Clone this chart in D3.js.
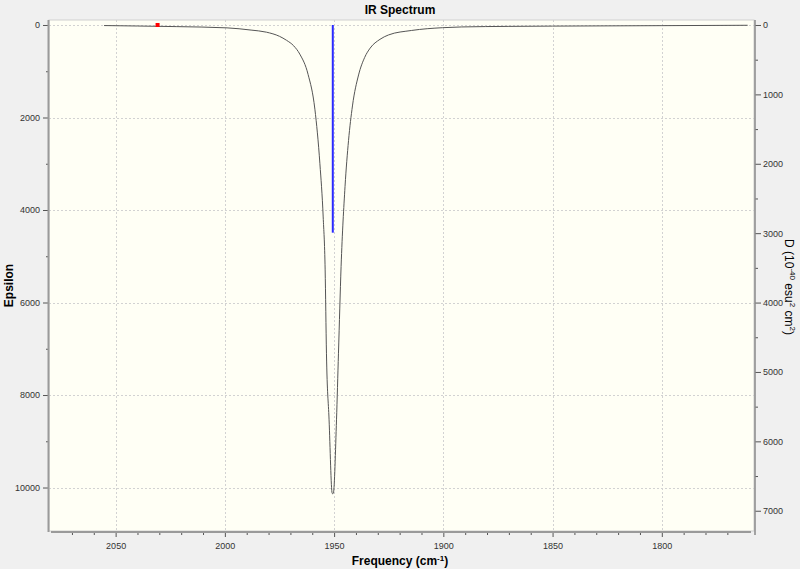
<!DOCTYPE html>
<html>
<head>
<meta charset="utf-8">
<script src="https://cdn.jsdelivr.net/npm/d3@7"></script>
<style>
  body { margin: 0; background: #f0f0f0; }
  text { font-family: "Liberation Sans", Arial, sans-serif; }
</style>
</head>
<body>
<svg id="chart" width="800" height="569"></svg>
<script>
// spectrum curve (frequency cm-1, epsilon)
var freq = [2055.3, 2040, 2022, 1999, 1988, 1981, 1975, 1971.8, 1968.5, 1965.7, 1961.9, 1958.8, 1956.5, 1955.0,
            1954.1, 1953.5, 1952.3, 1950.9, 1950.6, 1950.3, 1948.9, 1948.0, 1946.8, 1945.0,
            1943.4, 1941.6, 1938.8, 1936, 1933.5, 1929, 1925.1, 1914.5, 1900.3, 1891.6, 1870, 1850, 1800, 1760.7];
var epsilon = [12, 22, 35, 62, 110, 155, 245, 330, 450, 630, 1070, 1820, 3000, 4150,
               5295, 7096, 8537, 10121, 10136, 10115, 8537, 7096, 5224, 3495,
               2500, 1750, 1080, 700, 500, 310, 215, 118, 58, 42, 30, 24, 14, 6];

// sticks (frequency, D)
var stickFreq = [1950.6, 2030.8];
var stickD = [2993, 0];
var stickColor = ["#2a2aff", "red"];

// ticks
var freqTicks = [2050, 2000, 1950, 1900, 1850, 1800];
var freqMinor = [2070, 2060, 2040, 2030, 2020, 2010, 1990, 1980, 1970, 1960, 1940, 1930,
                 1920, 1910, 1890, 1880, 1870, 1860, 1840, 1830, 1820, 1810, 1790, 1780, 1770];
var epsTicks = [0, 2000, 4000, 6000, 8000, 10000];
var epsMinor = [1000, 3000, 5000, 7000, 9000];
var dTicks = [0, 1000, 2000, 3000, 4000, 5000, 6000, 7000];
var dMinor = [500, 1500, 2500, 3500, 4500, 5500, 6500];

var margin = { top: 20, right: 46, bottom: 38, left: 49 },
    width = 800 - margin.left - margin.right,
    height = 569 - margin.top - margin.bottom;

var svg = d3.select("#chart");

svg.append("text")
  .attr("x", 400).attr("y", 14)
  .attr("text-anchor", "middle")
  .style("font-size", "12px").style("font-weight", "bold")
  .text("IR Spectrum");

var g = svg.append("g")
  .attr("transform", "translate(" + margin.left + "," + margin.top + ")");

var x = d3.scaleLinear().domain([2080.5, 1757.8]).range([0, width]);
var y = d3.scaleLinear().domain([-108, 10940]).range([0, height]);
var yD = d3.scaleLinear().domain([-72, 7292]).range([0, height]);
var fmt = d3.format("d");

// plot background
g.append("rect")
  .attr("width", width).attr("height", height)
  .attr("fill", "#fffff5")
  .attr("stroke", "#cfcfcf");

// grid
g.append("g").selectAll("line").data(epsTicks).enter().append("line")
  .attr("x1", 0).attr("x2", width)
  .attr("y1", d => Math.round(y(d)) + 0.5).attr("y2", d => Math.round(y(d)) + 0.5)
  .attr("stroke", "#d2d2d2").attr("stroke-dasharray", "2,2");
g.append("g").selectAll("line").data(freqTicks).enter().append("line")
  .attr("y1", 0).attr("y2", height)
  .attr("x1", d => Math.round(x(d)) + 0.5).attr("x2", d => Math.round(x(d)) + 0.5)
  .attr("stroke", "#d2d2d2").attr("stroke-dasharray", "2,2");

function styleAxis(sel) {
  sel.selectAll("text").style("font-size", "9px").attr("fill", "#333");
  sel.selectAll("line").attr("stroke", "#555");
  sel.select(".domain").remove();
}

// left axis
g.append("g")
  .call(d3.axisLeft(y).tickValues(epsTicks).tickSize(6).tickPadding(3).tickFormat(fmt))
  .call(styleAxis);
g.append("g")
  .call(d3.axisLeft(y).tickValues(epsMinor).tickSize(3).tickFormat(""))
  .call(styleAxis);
g.append("line")
  .attr("x1", -0.5).attr("x2", -0.5).attr("y1", 0).attr("y2", height + 1)
  .attr("stroke", "#9a9a9a").attr("stroke-width", 2);

// bottom axis
g.append("g").attr("transform", "translate(0," + (height + 1) + ")")
  .call(d3.axisBottom(x).tickValues(freqTicks).tickSize(5).tickPadding(6).tickFormat(fmt))
  .call(styleAxis);
g.append("g").attr("transform", "translate(0," + (height + 1) + ")")
  .call(d3.axisBottom(x).tickValues(freqMinor).tickSize(3).tickFormat(""))
  .call(styleAxis);
g.append("line")
  .attr("x1", 2).attr("x2", width - 3).attr("y1", height + 1).attr("y2", height + 1)
  .attr("stroke", "#9a9a9a").attr("stroke-width", 2);

// right axis
g.append("g").attr("transform", "translate(" + (width + 1) + ",0)")
  .call(d3.axisRight(yD).tickValues(dTicks).tickSize(6).tickPadding(2).tickFormat(fmt))
  .call(styleAxis);
g.append("g").attr("transform", "translate(" + (width + 1) + ",0)")
  .call(d3.axisRight(yD).tickValues(dMinor).tickSize(3).tickFormat(""))
  .call(styleAxis);
g.append("line")
  .attr("x1", width + 1).attr("x2", width + 1).attr("y1", 0).attr("y2", height + 4)
  .attr("stroke", "#8a8a8a").attr("stroke-width", 1.5);

// axis titles
svg.append("text")
  .attr("transform", "translate(13," + (margin.top + height / 2 + 10) + ") rotate(-90)")
  .attr("text-anchor", "middle")
  .style("font-size", "12px").style("font-weight", "bold")
  .text("Epsilon");

var xt = svg.append("text")
  .attr("x", 400).attr("y", 565)
  .attr("text-anchor", "middle")
  .style("font-size", "12px").style("font-weight", "bold");
xt.append("tspan").text("Frequency (cm");
xt.append("tspan").attr("dy", -4).style("font-size", "8px").text("-1");
xt.append("tspan").attr("dy", 4).text(")");

var rt = svg.append("text")
  .attr("transform", "translate(785," + (margin.top + 267) + ") rotate(90)")
  .attr("text-anchor", "middle")
  .style("font-size", "12px");
rt.append("tspan").text("D (10");
rt.append("tspan").attr("dy", -5).style("font-size", "8px").text("-40");
rt.append("tspan").attr("dy", 5).text(" esu");
rt.append("tspan").attr("dy", -5).style("font-size", "8px").text("2");
rt.append("tspan").attr("dy", 5).text(" cm");
rt.append("tspan").attr("dy", -5).style("font-size", "8px").text("2");
rt.append("tspan").attr("dy", 5).text(")");

// spectrum
var pts = freq.map((f, i) => [f, epsilon[i]]);
var line = d3.line()
  .x(d => x(d[0]))
  .y(d => y(d[1]))
  .curve(d3.curveMonotoneX);
g.append("path")
  .datum(pts)
  .attr("fill", "none")
  .attr("stroke", "#555")
  .attr("stroke-width", 1)
  .attr("d", line);

// sticks
g.append("line")
  .attr("x1", x(stickFreq[0])).attr("x2", x(stickFreq[0]))
  .attr("y1", yD(0)).attr("y2", yD(stickD[0]))
  .attr("stroke", stickColor[0]).attr("stroke-width", 2);
g.append("rect")
  .attr("x", x(stickFreq[1]) - 2).attr("y", yD(stickD[1]) - 2)
  .attr("width", 4).attr("height", 4)
  .attr("fill", stickColor[1]);
</script>
</body>
</html>
